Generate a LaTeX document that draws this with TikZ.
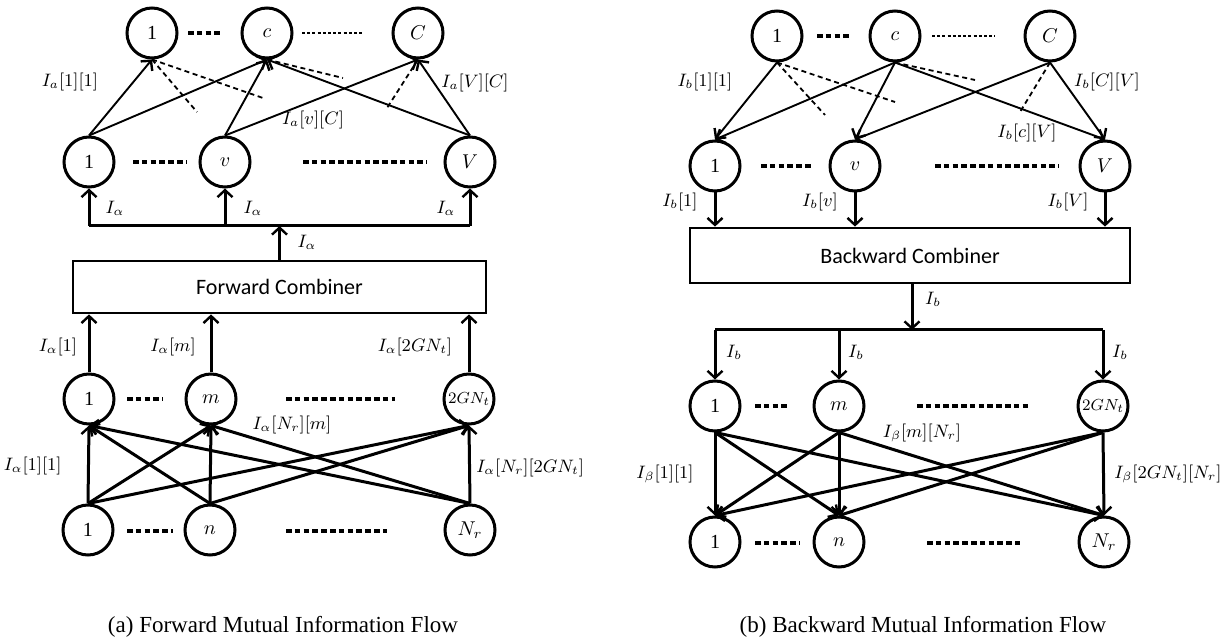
\documentclass[tikz,border=0pt]{standalone}
\usepackage{fontspec}
\setmainfont{Liberation Serif}
\newfontfamily\calib{Carlito}
\usetikzlibrary{arrows.meta}
\begin{document}
\begin{tikzpicture}[x=0.5pt,y=-0.5pt,
  nd/.style={circle, draw, line width=1.5pt, minimum size=25pt, inner sep=0pt, font=\fontsize{10}{11}\selectfont},
  lab/.style={font=\fontsize{9}{10}\selectfont, inner sep=1pt},
  combox/.style={draw, line width=1.4pt, inner sep=0pt, font=\calib\fontsize{11}{13}\selectfont},
  tipA/.style={-{Straight Barb[length=3.5pt,width=7.5pt,line width=1.2pt]}},
  thinedge/.style={line width=0.95pt, tipA},
  thickedge/.style={line width=1.5pt, tipA},
  dsh/.style={line width=0.9pt, dash pattern=on 2.5pt off 1.8pt},
  dotrow/.style={line width=1.8pt, dash pattern=on 2.8pt off 1.6pt},
  dotfine/.style={line width=0.9pt, dash pattern=on 1.5pt off 1.1pt},
  captext/.style={font=\fontsize{11.5}{13}\selectfont, inner sep=0pt}]
\useasboundingbox (0,0) rectangle (1227,641);

% ================= LEFT (forward) =================
\node[nd] (aT1) at (152,33) {1};
\node[nd] (aTc) at (267,33) {$c$};
\node[nd] (aTC) at (418,33) {$C$};
\node[nd] (aM1) at (89,162) {1};
\node[nd] (aMv) at (225,162) {$v$};
\node[nd] (aMV) at (470,162) {$V$};
\node[combox, minimum width=206.5pt, minimum height=26pt] (boxF) at (279.5,287) {Forward Combiner};
\node[nd] (aL1) at (89,399) {1};
\node[nd] (aLm) at (211,399) {$m$};
\node[nd, font=\fontsize{8.5}{9}\selectfont] (aL2) at (469,399) {$2GN_t$};
\node[nd] (aB1) at (88,530) {1};
\node[nd] (aBn) at (210,530) {$n$};
\node[nd] (aBN) at (470,530) {$N_r$};

% row dots
\coordinate (ad1a) at (188,33); \coordinate (ad1b) at (222,33);
\coordinate (ad2a) at (302,33); \coordinate (ad2b) at (363,33);
\coordinate (ad3a) at (133,162); \coordinate (ad3b) at (187,162);
\coordinate (ad4a) at (303,162); \coordinate (ad4b) at (427,162);
\coordinate (ad5a) at (127,399); \coordinate (ad5b) at (163,399);
\coordinate (ad6a) at (286,399); \coordinate (ad6b) at (395,399);
\coordinate (ad7a) at (127,531); \coordinate (ad7b) at (173,531);
\coordinate (ad8a) at (286,531); \coordinate (ad8b) at (387,531);
\draw[dotrow] (ad1a) -- (ad1b);
\draw[dotfine] (ad2a) -- (ad2b);
\draw[dotrow] (ad3a) -- (ad3b);
\draw[dotrow] (ad4a) -- (ad4b);
\draw[dotrow] (ad5a) -- (ad5b);
\draw[dotrow] (ad6a) -- (ad6b);
\draw[dotrow] (ad7a) -- (ad7b);
\draw[dotrow] (ad8a) -- (ad8b);

% top edges
\draw[thinedge] (aM1.north) -- (aT1.south);
\draw[thinedge] (aM1.north) -- (aTc.south);
\draw[thinedge] (aMv.north) -- (aTc.south);
\draw[thinedge] (aMv.north) -- (aTC.south);
\draw[thinedge] (aMV.north) -- (aTc.south);
\draw[thinedge] (aMV.north) -- (aTC.south);
\coordinate (adsh1) at (197,112);
\coordinate (adsh2) at (263,98);
\coordinate (adsh3) at (343,78);
\coordinate (adsh4) at (387,108);
\draw[dsh] (aT1.south) -- (adsh1);
\draw[dsh] (aT1.south) -- (adsh2);
\draw[dsh] (aTc.south) -- (adsh3);
\draw[dsh] (aTC.south) -- (adsh4);
\node[lab] (laT1) at (70,82) {$I_a[1][1]$};
\node[lab] (laT2) at (475,83) {$I_a[V][C]$};
\node[lab] (laT3) at (313,120) {$I_a[v][C]$};

% bus
\coordinate (abus1) at (89,226);
\coordinate (abus2) at (225,226);
\coordinate (abus3) at (470,226);
\coordinate (abusc) at (279.5,226);
\draw[line width=1.5pt] (abus1) -- (abus3);
\draw[thickedge] (abus1) -- (aM1.south);
\draw[thickedge] (abus2) -- (aMv.south);
\draw[thickedge] (abus3) -- (aMV.south);
\draw[thickedge] (boxF.north) -- (abusc);
\node[lab] (laI1) at (115,208) {$I_\alpha$};
\node[lab] (laI2) at (253,208) {$I_\alpha$};
\node[lab] (laI3) at (446,208) {$I_\alpha$};
\node[lab] (laI4) at (307,242) {$I_\alpha$};

% into forward combiner
\draw[thickedge] (aL1.north) -- (aL1.north |- boxF.south);
\draw[thickedge] (aLm.north) -- (aLm.north |- boxF.south);
\draw[thickedge] (aL2.north) -- (aL2.north |- boxF.south);
\node[lab] (laC1) at (58,347) {$I_\alpha[1]$};
\node[lab] (laC2) at (173,347) {$I_\alpha[m]$};
\node[lab] (laC3) at (415,347) {$I_\alpha[2GN_t]$};

% bottom bipartite
\foreach \s in {aB1,aBn,aBN}{
  \foreach \t in {aL1,aLm,aL2}{
    \draw[thickedge] (\s.north) -- (\t.south);
  }
}
\node[lab] (laB1) at (292,425) {$I_\alpha[N_r][m]$};
\node[lab, anchor=east] (laB2) at (64,466) {$I_\alpha[1][1]$};
\node[lab, anchor=west] (laB3) at (474,468) {$I_\alpha[N_r][2GN_t]$};

\node[captext] (capA) at (283,627) {(a) Forward Mutual Information Flow};

% ================= RIGHT (backward) =================
\node[nd] (bT1) at (777,36) {1};
\node[nd] (bTc) at (895,36) {$c$};
\node[nd] (bTC) at (1050,36) {$C$};
\node[nd] (bM1) at (715,166) {1};
\node[nd] (bMv) at (855,166) {$v$};
\node[nd] (bMV) at (1105,166) {$V$};
\node[combox, minimum width=220pt, minimum height=27.5pt] (boxB) at (910,255.5) {Backward Combiner};
\node[nd] (bL1) at (715,406) {1};
\node[nd] (bLm) at (839,406) {$m$};
\node[nd, font=\fontsize{8.5}{9}\selectfont] (bL2) at (1103,406) {$2GN_t$};
\node[nd] (bB1) at (715,542) {1};
\node[nd] (bBn) at (839,542) {$n$};
\node[nd] (bBN) at (1104,542) {$N_r$};

\coordinate (bd1a) at (817,36); \coordinate (bd1b) at (851,36);
\coordinate (bd2a) at (932,36); \coordinate (bd2b) at (995,36);
\coordinate (bd3a) at (761,166); \coordinate (bd3b) at (813,166);
\coordinate (bd4a) at (935,166); \coordinate (bd4b) at (1059,166);
\coordinate (bd5a) at (755,406); \coordinate (bd5b) at (790,406);
\coordinate (bd6a) at (917,406); \coordinate (bd6b) at (1028,406);
\coordinate (bd7a) at (755,543); \coordinate (bd7b) at (800,543);
\coordinate (bd8a) at (927,543); \coordinate (bd8b) at (1020,543);
\draw[dotrow] (bd1a) -- (bd1b);
\draw[dotfine] (bd2a) -- (bd2b);
\draw[dotrow] (bd3a) -- (bd3b);
\draw[dotrow] (bd4a) -- (bd4b);
\draw[dotrow] (bd5a) -- (bd5b);
\draw[dotrow] (bd6a) -- (bd6b);
\draw[dotrow] (bd7a) -- (bd7b);
\draw[dotrow] (bd8a) -- (bd8b);

\draw[thinedge] (bT1.south) -- (bM1.north);
\draw[thinedge] (bTc.south) -- (bM1.north);
\draw[thinedge] (bTc.south) -- (bMv.north);
\draw[thinedge] (bTc.south) -- (bMV.north);
\draw[thinedge] (bTC.south) -- (bMv.north);
\draw[thinedge] (bTC.south) -- (bMV.north);
\coordinate (bdsh1) at (825,115);
\coordinate (bdsh2) at (895,102);
\coordinate (bdsh3) at (975,80);
\coordinate (bdsh4) at (1020,112);
\draw[dsh] (bT1.south) -- (bdsh1);
\draw[dsh] (bT1.south) -- (bdsh2);
\draw[dsh] (bTc.south) -- (bdsh3);
\draw[dsh] (bTC.south) -- (bdsh4);
\node[lab] (lbT1) at (705,82) {$I_b[1][1]$};
\node[lab] (lbT2) at (1107,82) {$I_b[C][V]$};
\node[lab] (lbT3) at (1027,133) {$I_b[c][V]$};

\draw[thickedge] (bM1.south) -- (bM1.south |- boxB.north);
\draw[thickedge] (bMv.south) -- (bMv.south |- boxB.north);
\draw[thickedge] (bMV.south) -- (bMV.south |- boxB.north);
\node[lab] (lbI1) at (680,202) {$I_b[1]$};
\node[lab] (lbI2) at (820,202) {$I_b[v]$};
\node[lab] (lbI3) at (1068,202) {$I_b[V]$};

\coordinate (bbus1) at (715,330);
\coordinate (bbus2) at (839,330);
\coordinate (bbus3) at (1103,330);
\coordinate (bbusc) at (912,330);
\coordinate (bboxo) at (912,283);
\draw[thickedge] (bboxo) -- (bbusc);
\draw[line width=1.5pt] (bbus1) -- (bbus3);
\draw[thickedge] (bbus1) -- (bL1.north);
\draw[thickedge] (bbus2) -- (bLm.north);
\draw[thickedge] (bbus3) -- (bL2.north);
\node[lab] (lbI4) at (933,299) {$I_b$};
\node[lab] (lbI5) at (734,352) {$I_b$};
\node[lab] (lbI6) at (856,352) {$I_b$};
\node[lab] (lbI7) at (1120,352) {$I_b$};

\foreach \s in {bL1,bLm,bL2}{
  \foreach \t in {bB1,bBn,bBN}{
    \draw[thickedge] (\s.south) -- (\t.north);
  }
}
\node[lab] (lbB1) at (922,433) {$I_\beta[m][N_r]$};
\node[lab, anchor=east] (lbB2) at (696,474) {$I_\beta[1][1]$};
\node[lab, anchor=west] (lbB3) at (1112,474) {$I_\beta[2GN_t][N_r]$};

\node[captext] (capB) at (923,627) {(b) Backward Mutual Information Flow};
\end{tikzpicture}
\end{document}
